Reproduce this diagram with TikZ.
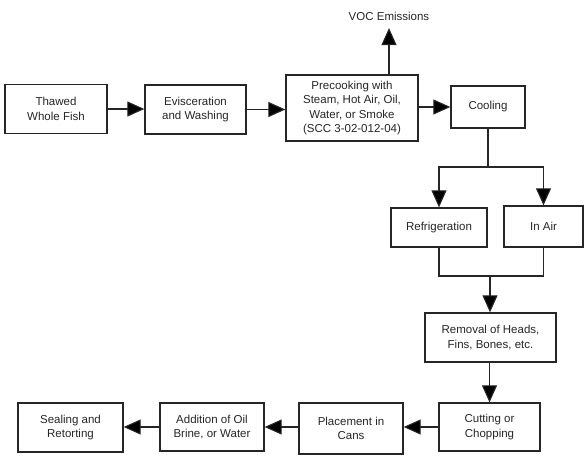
\documentclass[tikz,border=0pt]{standalone}
\usepackage{fontspec}
\setmainfont{Liberation Sans}
\usetikzlibrary{arrows.meta}
\begin{document}
\begin{tikzpicture}[x=1pt,y=-1pt,font=\fontsize{11.5}{14.5}\selectfont,>={Triangle[length=17pt,width=15pt,fill=black]},line width=1.1pt,draw=black!85,text=black!85,stepbox/.style={draw, line width=1.3pt, align=center, inner sep=2pt}]
\useasboundingbox (0,0) rectangle (587,468);
\node[stepbox, minimum width=102pt, minimum height=49pt] (thawed) at (56,109) {Thawed\\Whole Fish};\node[stepbox, minimum width=101pt, minimum height=49pt] (evisc) at (195.5,109.5) {Evisceration\\and Washing};
\node[stepbox, minimum width=132pt, minimum height=66pt] (precook) at (352,108) {Precooking with\\Steam, Hot Air, Oil,\\Water, or Smoke\\(SCC 3-02-012-04)};\node[stepbox, minimum width=74pt, minimum height=42pt] (cooling) at (488,107) {Cooling};
\node (voc) at (389,16) {VOC Emissions};
\node[stepbox, minimum width=96pt, minimum height=39pt] (refrig) at (439,227.5) {Refrigeration};\node[stepbox, minimum width=79pt, minimum height=41pt] (inair) at (543.5,226.5) {In Air};
\node[stepbox, minimum width=131pt, minimum height=49pt] (removal) at (490.5,337.5) {Removal of Heads,\\Fins, Bones, etc.};\node[stepbox, minimum width=101pt, minimum height=48pt] (cutting) at (489.5,427) {Cutting or\\Chopping};
\node[stepbox, minimum width=104pt, minimum height=51pt] (placement) at (351,428.5) {Placement in\\Cans};\node[stepbox, minimum width=104pt, minimum height=48pt] (addition) at (212,427) {Addition of Oil\\Brine, or Water};\node[stepbox, minimum width=105pt, minimum height=49pt] (sealing) at (70.5,427.5) {Sealing and\\Retorting};
\coordinate (split) at (488,167);\coordinate (merge) at (490,276);
\draw[->] (thawed.east) -- (thawed.east -| evisc.west);\draw[->] (evisc) -- (evisc -| precook.west);\draw[->] (precook.north -| voc) -- ([yshift=-4pt]voc.south);\draw[->] (precook.east |- cooling) -- (cooling);
\draw (cooling.south) -- (split);\draw[->] (split) -| (refrig.north);\draw[->] (split) -| (inair.north);
\draw (refrig.south) |- (merge) -| (inair.south);\draw[->] (merge) -- (merge |- removal.north);\draw[->] (removal.south -| cutting) -- (cutting.north);
\draw[->] (cutting.west) -- (cutting.west -| placement.east);\draw[->] (placement.west |- addition) -- (addition.east);\draw[->] (addition.west) -- (sealing.east |- addition);
\end{tikzpicture}
\end{document}
